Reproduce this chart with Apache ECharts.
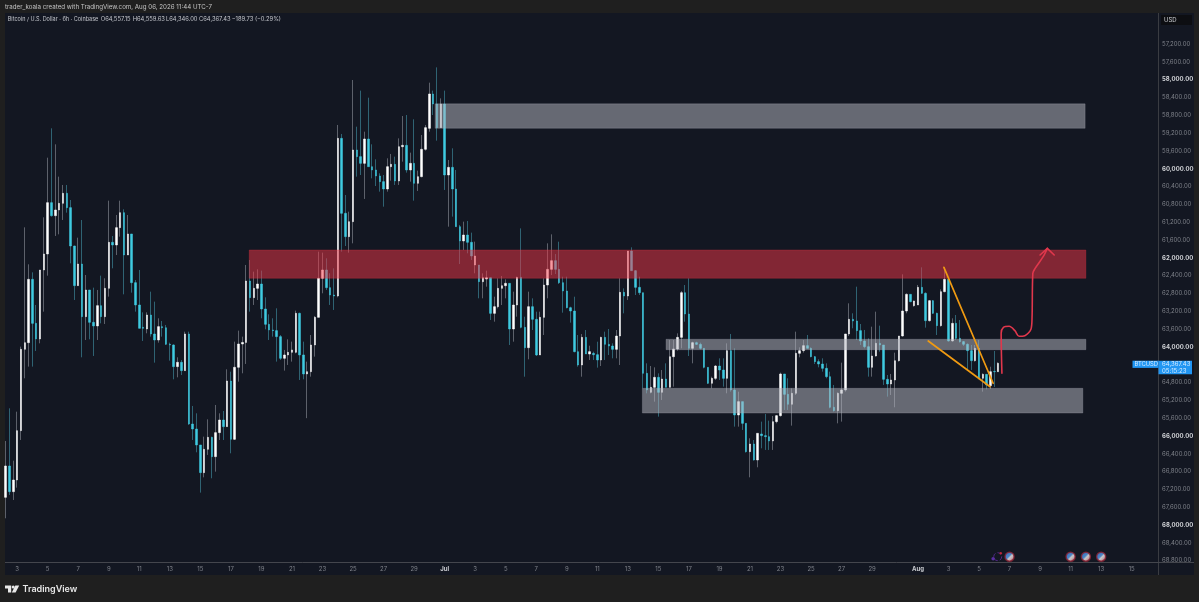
<!DOCTYPE html>
<html>
<head>
<meta charset="utf-8">
<title>BTCUSD 6h</title>
<script src="https://cdn.jsdelivr.net/npm/echarts@6/dist/echarts.min.js"></script>
<style>
html,body{margin:0;padding:0;background:#1f1f1f;}
#chart{width:1199px;height:602px;}
</style>
</head>
<body>
<div id="chart"></div>
<script>
// 6h candles, [open, close, low, high]. Price axis is flipped.
var candles = [
[67377,66673,66112,67848],[66673,67250,65379,67324],[67250,66988,66554,67437],[66988,65880,65454,67160],
[65880,64054,63994,66090],[64054,63905,61316,64705],[63905,62483,62146,64443],[62483,63471,62326,64443],
[63471,63822,63059,64092],[63822,62273,62273,63920],[62273,61914,61091,63209],[61914,60762,59752,62401],
[60762,61054,59093,61076],[61054,60926,59452,61510],[60926,60777,60178,61473],[60777,60552,60365,61151],
[60552,60874,60365,60986],[60874,61735,60702,62124],[61735,62625,61727,62947],[62625,62139,61548,62625],
[62139,63321,61151,64234],[63321,62722,62386,63845],[62722,63448,62722,63830],[63448,63530,62670,64204],
[63530,63074,62722,63845],[63074,63321,62401,63471],[63321,62685,62460,63486],[62685,61652,60717,62872],
[61652,61712,61510,62236],[61712,61323,61039,61937],[61323,60986,60717,61525],[60986,61937,60911,62820],
[61937,61465,61039,61937],[61465,62558,61465,62782],[62558,63059,62498,63209],[63059,63583,62273,63583],
[63560,63583,63224,63867],[63598,63284,63224,63695],[63284,63710,62760,63770],[63710,63845,62984,64354],
[63845,63545,63358,63905],[63545,63570,63418,63770],[63570,63942,63508,63957],[63942,63957,63905,64309],
[63957,64443,63942,64728],[64443,64346,64234,64683],[64346,64533,64294,64631],[64533,63710,63658,64533],
[63710,65731,63658,65753],[65731,65843,65326,66090],[65843,66202,65491,66367],[66202,66823,66202,67272],
[66823,66299,66015,66928],[66299,66030,65626,66426],[66030,66464,66015,66950],[66464,65925,65304,66801],
[65925,65641,65491,66090],[65641,65790,65439,66090],[65790,64765,64503,65790],[64765,66075,64556,66389],
[66075,64458,63882,66090],[64458,63935,63635,64780],[63935,63900,63770,64593],[63900,62520,62161,64383],
[62520,62894,62049,63209],[62894,62685,62311,63059],[62685,62588,62258,62947],[62588,63149,62288,63358],
[63149,63493,62887,63605],[63493,63620,63269,63845],[63620,63635,63358,63770],[63635,63770,63134,64331],
[63770,64256,63733,64294],[64256,64181,64069,64533],[64181,64122,63830,64406],[64122,64069,63882,64331],
[64122,63246,63186,64144],[63246,64181,63231,64743],[64181,64608,63882,64728],[64608,64556,64331,65600],
[64556,63957,63733,64668],[63957,63336,63306,64219],[63336,62460,61862,63336],[62460,62273,61884,62797],
[62273,62670,62011,62722],[62670,62835,62348,63059],[62835,62857,62236,63171],[62857,59318,59018,62887],
[59318,61001,59220,61862],[61001,61525,60590,61735],[61525,61188,60964,61884],[61188,59579,58008,61675],
[59579,59729,59056,60178],[59729,59879,58247,60141],[59879,59332,59168,60679],[59332,59954,58405,59954],
[59954,60028,59452,60216],[60028,60163,59789,60388],[60163,60290,60103,60515],[60290,60455,60141,60852],
[60455,59954,59766,60515],[59954,59901,59669,60268],[59901,60275,59729,60365],[60275,59505,59318,60365],
[59505,59475,58816,59841],[59475,60028,58794,60088],[60028,59879,59639,60290],[59879,60328,58891,60717],
[60328,60178,60043,60500],[60178,59564,59243,60193],[59564,59078,59018,59594],[59093,58322,58068,59168],
[58322,58547,58247,58794],[58547,59078,57724,59370],[59078,58547,58420,59078],[58547,60141,58247,60477],
[60141,59969,59804,61301],[59969,60455,59542,61076],[60455,61301,60028,61301],[61301,61622,61263,62139],
[61622,61488,61188,61824],[61488,61652,61173,61899],[61652,61959,61435,62049],[62161,61959,61637,62348],
[62161,62535,62161,62909],[62536,62446,62349,62910],[62476,62446,62289,62648],[62446,63247,62446,63396],
[63247,63097,62873,63434],[63097,62686,62461,63135],[62686,62626,62409,63060],[62626,62573,62483,62910],
[62573,63598,62573,63958],[63598,63060,62760,63883],[63060,62439,62424,63322],[62439,63561,61339,63583],
[63561,64018,63322,64669],[64018,63097,62760,64279],[63097,63381,62910,63621],[63381,64182,63209,64205],
[64182,63337,63209,64182],[63337,62611,62461,63733],[62611,62259,61675,62910],[62259,62064,61473,62386],
[62064,62259,61915,62364],[62259,62558,61638,62588],[62558,62745,62424,63232],[62745,63120,62424,63135],
[63120,63194,63097,63456],[63194,64107,62873,64122],[64107,64407,63733,64444],[64407,63786,63711,64669],
[63786,64160,63621,64160],[64160,64107,63973,64294],[64145,64175,64107,64294],[64175,64294,63883,64466],
[64294,63786,63771,64429],[63786,63943,63658,64294],[63943,63980,63598,64182],[63980,64055,63920,64257],
[64055,63756,63621,64257],[63756,62775,62461,64407],[62775,62858,62686,63247],[62858,61847,61847,62947],
[61847,62289,61765,62289],[62289,62663,62274,62835],[62663,62783,62424,62835],[62783,64594,62783,64930],
[64594,64968,64369,65043],[65020,64908,64429,65043],[64908,64683,64459,65230],[64683,65020,64594,65566],
[65020,64721,64519,65192],[64721,64908,64369,64908],[64908,64220,63845,64908],[64220,64047,63845,64893],
[64047,63786,63696,64085],[63786,62783,62745,64032],[62783,63262,62611,63434],[63262,64032,62461,64205],
[64032,63905,63883,64369],[63905,63943,63883,63958],[63943,64032,63905,64055],[64032,64459,64032,64481],
[64459,64818,64459,64833],[64818,64706,64669,64930],[64706,64429,64407,64743],[64429,64519,64257,64743],
[64519,64706,64257,64893],[64706,64084,63920,65042],[64084,64967,63710,65005],[64967,65529,64032,65791],
[65529,65229,65005,65791],[65229,65716,65229,65865],[65716,66352,65716,66374],[66352,66180,66052,66928],
[66180,66539,66090,66554],[66539,65940,65940,66703],[65955,65993,65678,66277],[65993,66015,65506,66314],
[66015,66112,65656,66314],[66112,65678,65551,66314],[65678,65544,65529,65716],[65544,64608,64578,65566],
[64608,65065,64608,65416],[65065,65289,64705,65416],[65289,65042,64930,65768],[65042,64144,63658,65080],
[64144,64084,64010,64234],[64084,63972,63845,64129],[63972,64032,63733,64032],[64032,64219,64010,64234],
[64219,64331,64204,64384],[64331,64384,64279,64459],[64384,64481,64256,64556],[64481,64668,64369,64705],
[64668,65356,64556,65379],[65356,65431,64855,65454],[65431,65042,65020,65716],[65042,64967,64354,65678],
[64967,63710,63710,65005],[63710,63381,63022,63755],[63381,63418,63246,63583],[63418,63635,62648,63845],
[63635,63867,63486,63957],[63867,63995,63620,64032],[63995,64459,63808,64668],[64459,64204,63546,64668],
[64204,63920,63209,64219],[63920,63957,63523,64107],[63957,64728,63957,64855],[64728,64833,64631,65117],
[64833,64743,64608,65080],[64743,64309,64129,65356],[64309,63755,63755,64331],[63755,63194,62371,63770],
[63194,62820,62797,63246],[62820,62984,62820,62999],[63074,62969,62962,63097],[63059,62663,62610,63059],
[62663,62797,62214,62812],[62797,63411,62775,63568],[63411,62962,62947,63433],[62962,63246,62947,63261],
[63246,63523,63231,63733],[63523,62760,62708,63546],[62760,62483,62214,62775],[62483,63867,62461,63882],
[63867,63471,63359,63882],[63471,63808,63284,63845],[63808,63882,63396,63905],[63882,63942,63867,63980],
[63942,64084,63920,64518],[64084,64309,63957,64518],[64309,64032,63957,64331],[64032,64705,63845,64728],
[64705,64616,64593,65005],[64616,64855,64608,64952],[64871,64557,64445,64945],[64550,64557,64092,64900],
[64557.15,64367.43,64346,64559.63]
];

// tick labels by candle slot (slot 0 = Jun 2 06:00, 4 slots a day)
var dayTicks = {
  3:'3',11:'5',19:'7',27:'9',35:'11',43:'13',51:'15',59:'17',67:'19',75:'21',83:'23',91:'25',99:'27',107:'29',
  115:'Jul',123:'3',131:'5',139:'7',147:'9',155:'11',163:'13',171:'15',179:'17',187:'19',195:'21',203:'23',211:'25',219:'27',227:'29',
  239:'Aug',247:'3',255:'5',263:'7',271:'9',279:'11',287:'13',295:'15'
};
var slotCount = 302;
var slots = [];
for (var s = 0; s < slotCount; s++) {
  slots.push(new Date(Date.UTC(2026, 5, 2, 6 + s * 6)).toISOString().slice(0, 16));
}

// drawn boxes: [from slot, to slot, price, price]
var grayZones = [
  [112.5, 282.8, 58544, 59092],
  [173, 283, 63829, 64063],
  [166.8, 282.2, 64930, 65485]
];
var redZones = [
  [63.8, 283, 61824, 62460]
];
// wedge and hand drawn arrow: [slot, price]
var wedgeUpper = [[245.8, 62213], [258.7, 64817]];
var wedgeLower = [[241.7, 63868], [257.9, 64894]];
var arrowPath = [
  [261, 64593], [260.8, 63695], [261.4, 63560], [262.9, 63538], [264.4, 63636], [265.5, 63762],
  [267, 63749], [268.6, 63605], [268.9, 63322], [269.1, 62348], [269.7, 62236], [271.8, 61975], [272.9, 61787]
];
var arrowHead = [[271, 61937], [272.9, 61787], [274.7, 61937]];
// economic calendar flags along the bottom
var flagPoints = [[263, 68710], [279, 68710], [283, 68710], [287, 68710]];
var earningsRing = [[259.9, 68710]];
var earningsDots = [[258.7, 68755]];
var earningsRed = [[260.7, 68634]];

var priceMin = 56400, priceMax = 68800, priceStep = 400;

var bodies = candles.map(function (c) {
  return [c[0], c[1], Math.min(c[0], c[1]), Math.max(c[0], c[1])];
});

function boxItem(params, api) {
  var a = api.coord([api.value(0), api.value(2)]);
  var b = api.coord([api.value(1), api.value(3)]);
  return {
    type: 'rect',
    shape: {x: a[0], y: a[1], width: b[0] - a[0], height: b[1] - a[1]},
    style: {fill: api.visual('color'), stroke: api.visual('borderColor'), lineWidth: 1}
  };
}

function lineSeries(data, color, width, smooth) {
  return {
    type: 'line', xAxisIndex: 1, data: data, symbol: 'none', smooth: smooth || false, z: 8, silent: true,
    lineStyle: {color: color, width: width, cap: 'round', join: 'round'}
  };
}

var myChart = echarts.init(document.getElementById('chart'));

var option = {
  animation: false,
  backgroundColor: '#1f1f1f',
  textStyle: {fontFamily: 'Inter'},
  grid: {left: 3.8, top: 8.37, width: 1152.7, height: 552.33},
  xAxis: [{
    type: 'category',
    data: slots,
    boundaryGap: true,
    offset: 1.6,
    axisLine: {show: false},
    axisTick: {show: false},
    splitLine: {show: false},
    axisLabel: {
      interval: function (i) { return dayTicks[i] !== undefined; },
      formatter: function (v) {
        var t = dayTicks[slots.indexOf(v)];
        return t === 'Jul' || t === 'Aug' ? '{b|' + t + '}' : t;
      },
      color: '#7e8189', fontSize: 6, margin: 3.8,
      rich: {b: {color: '#c9cbd0', fontSize: 6, fontWeight: 'bold'}}
    }
  }, {
    type: 'value', show: false, min: -0.5, max: slotCount - 0.5
  }],
  yAxis: {
    type: 'value',
    inverse: true,
    position: 'right',
    offset: 1.8,
    min: priceMin,
    max: priceMax,
    interval: priceStep,
    axisLine: {show: false},
    axisTick: {show: false},
    splitLine: {show: false},
    axisLabel: {
      color: '#7e8189', fontSize: 6, margin: 3.7,
      formatter: function (v) {
        if (v < 57000) return '';
        var t = v.toLocaleString('en-US', {minimumFractionDigits: 2});
        return v % 2000 === 0 ? '{b|' + t + '}' : t;
      },
      rich: {b: {color: '#d0d2d6', fontSize: 6, fontWeight: 'bold'}}
    }
  },
  series: [
    {
      type: 'candlestick', name: 'wicks', data: candles, barWidth: 1, z: 3, silent: true,
      itemStyle: {color: '#2f6373', color0: '#5d616b', borderColor: '#2f6373', borderColor0: '#5d616b', borderWidth: 1}
    },
    {
      type: 'candlestick', name: 'BTCUSD', data: bodies, barWidth: 2, z: 4, silent: true,
      itemStyle: {color: '#3fcbe0', color0: '#ffffff', borderColor: '#3fcbe0', borderColor0: '#ffffff', borderWidth: 0.5}
    },
    {
      type: 'custom', xAxisIndex: 1, data: grayZones, renderItem: boxItem, z: 6, silent: true, clip: false,
      itemStyle: {color: 'rgba(179,181,190,0.52)', borderColor: 'rgba(179,181,190,0.25)'}
    },
    {
      type: 'custom', xAxisIndex: 1, data: redZones, renderItem: boxItem, z: 6, silent: true, clip: false,
      itemStyle: {color: 'rgba(242,54,69,0.5)', borderColor: 'rgba(242,54,69,0.25)'}
    },
    lineSeries(wedgeUpper, '#ef9a12', 1.7),
    lineSeries(wedgeLower, '#ef9a12', 1.7),
    lineSeries(arrowPath, '#e0374c', 1.6, 0.3),
    lineSeries(arrowHead, '#e0374c', 1.6),
    {
      type: 'scatter', xAxisIndex: 1, data: flagPoints, symbolSize: 9, z: 9, silent: true,
      itemStyle: {
        color: new echarts.graphic.LinearGradient(0, 0, 1, 1, [
          {offset: 0, color: '#2f7fe0'}, {offset: 0.45, color: '#5aa0ee'},
          {offset: 0.55, color: '#f4f4f4'}, {offset: 1, color: '#e06470'}
        ]),
        borderColor: '#8b2233', borderWidth: 1.5
      }
    },
    {
      type: 'scatter', xAxisIndex: 1, data: earningsRing, symbolSize: 8, z: 9, silent: true,
      itemStyle: {color: 'rgba(0,0,0,0)', borderColor: '#5f2c9c', borderWidth: 1, borderType: 'dashed'}
    },
    {
      type: 'scatter', xAxisIndex: 1, data: earningsDots, symbolSize: 3.5, z: 9, silent: true,
      itemStyle: {color: '#6a35c0'}
    },
    {
      type: 'scatter', xAxisIndex: 1, data: earningsRed, symbolSize: 2.5, z: 9, silent: true,
      itemStyle: {color: '#e0283c'}
    }
  ],
  graphic: [
    // panel and separators
    {type: 'rect', z: -1, shape: {x: 5, y: 13, width: 1189, height: 562}, style: {fill: '#131722'}},
    {type: 'line', z: 1, shape: {x1: 1158.5, y1: 13, x2: 1158.5, y2: 575}, style: {stroke: '#3a3c42', lineWidth: 1}},
    {type: 'line', z: 1, shape: {x1: 5, y1: 562.5, x2: 1194, y2: 562.5}, style: {stroke: '#44464d', lineWidth: 1}},
    // header texts
    {type: 'text', x: 5, y: 7, z: 20, style: {text: 'trader_koala created with TradingView.com, Aug 06, 2026 11:44 UTC-7', fill: '#c4c4c4', font: '6.2px Inter', verticalAlign: 'middle'}},
    {type: 'text', x: 7.7, y: 19.5, z: 20, style: {text: 'Bitcoin / U.S. Dollar \u00b7 6h \u00b7 Coinbase', fill: '#c4c6cc', font: '5.5px Inter', verticalAlign: 'middle'}},
    {type: 'text', x: 100.7, y: 19.5, z: 20, style: {text: 'O64,557.15', fill: '#c4c6cc', font: '5.8px Inter', verticalAlign: 'middle'}},
    {type: 'text', x: 132.7, y: 19.5, z: 20, style: {text: 'H64,559.63', fill: '#c4c6cc', font: '5.8px Inter', verticalAlign: 'middle'}},
    {type: 'text', x: 166, y: 19.5, z: 20, style: {text: 'L64,346.00', fill: '#c4c6cc', font: '5.8px Inter', verticalAlign: 'middle'}},
    {type: 'text', x: 199, y: 19.5, z: 20, style: {text: 'C64,367.43', fill: '#c4c6cc', font: '5.8px Inter', verticalAlign: 'middle'}},
    {type: 'text', x: 231.7, y: 19.5, z: 20, style: {text: '\u2212189.73 (\u22120.29%)', fill: '#c4c6cc', font: '5.8px Inter', verticalAlign: 'middle'}},
    // currency box
    {type: 'rect', z: 20, shape: {x: 1161, y: 15, width: 31, height: 10}, style: {fill: '#0d0e12'}},
    {type: 'text', x: 1164, y: 20, z: 21, style: {text: 'USD', fill: '#d0d2d6', font: '6px Inter', verticalAlign: 'middle'}},
    // last price tag
    {type: 'rect', z: 20, shape: {x: 1132.5, y: 360.7, width: 26, height: 7.2}, style: {fill: '#2196f3'}},
    {type: 'rect', z: 20, shape: {x: 1158.5, y: 360.7, width: 33.5, height: 13.6}, style: {fill: '#2196f3'}},
    {type: 'text', x: 1134.5, y: 364.3, z: 21, style: {text: 'BTCUSD', fill: '#d5ebff', font: '5.8px Inter', verticalAlign: 'middle'}},
    {type: 'text', x: 1162, y: 364.3, z: 21, style: {text: '64,367.43', fill: '#d5ebff', font: '6px Inter', verticalAlign: 'middle'}},
    {type: 'text', x: 1162, y: 370.8, z: 21, style: {text: '05:15:23', fill: '#d5ebff', font: '6px Inter', verticalAlign: 'middle'}},
    // footer logo
    {type: 'polygon', z: 20, shape: {points: [[5, 585.5], [11.2, 585.5], [11.2, 592.5], [8, 592.5], [8, 588.6], [5, 588.6]]}, style: {fill: '#e8e8e8'}},
    {type: 'circle', z: 20, shape: {cx: 13.2, cy: 587, r: 1.5}, style: {fill: '#e8e8e8'}},
    {type: 'polygon', z: 20, shape: {points: [[15.3, 585.5], [19.2, 585.5], [15.6, 592.5], [11.8, 592.5]]}, style: {fill: '#e8e8e8'}},
    {type: 'text', x: 22.5, y: 589, z: 20, style: {text: 'TradingView', fill: '#e8e8e8', font: '600 9px Inter', verticalAlign: 'middle'}}
  ]
};

myChart.setOption(option);
</script>
</body>
</html>
